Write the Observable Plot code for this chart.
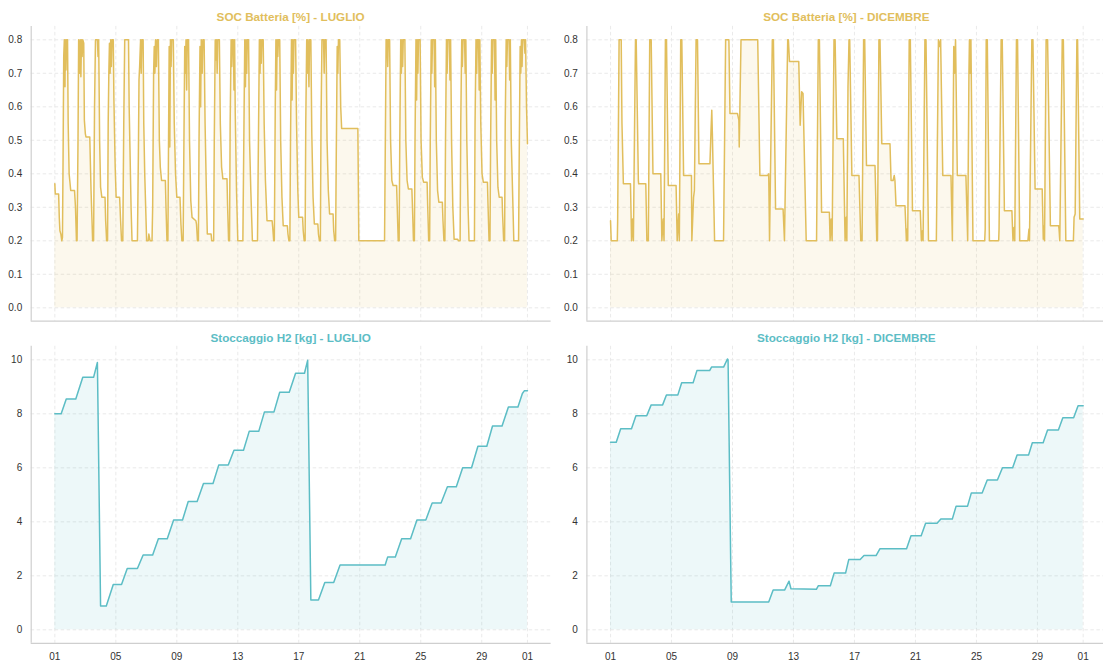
<!DOCTYPE html>
<html>
<head>
<meta charset="utf-8">
<script src="https://cdn.jsdelivr.net/npm/d3@7"></script>
<script src="https://cdn.jsdelivr.net/npm/@observablehq/plot@0.6"></script>
<style>
  body { margin: 0; background: #fff; font-family: "Liberation Sans", Arial, sans-serif; }
  #wrap { position: relative; width: 1103px; height: 664px; overflow: hidden; background: #fff; }
  .panel { position: absolute; }
  .title { position: absolute; width: 400px; text-align: center; font-weight: bold; font-size: 11.7px; line-height: 11.7px; white-space: nowrap; }
</style>
</head>
<body>
<div id="wrap"></div>
<script>
// Knots are [hour from the first day of the month, value]; the line joins them.
const julyStart = "2023-07-01";
const decStart = "2023-12-01";

// Tick dates on the x axes (every 4 days plus the first day of the next month)
const julyTickDates = ["2023-07-01","2023-07-05","2023-07-09","2023-07-13","2023-07-17","2023-07-21","2023-07-25","2023-07-29","2023-08-01"];
const decTickDates = ["2023-12-01","2023-12-05","2023-12-09","2023-12-13","2023-12-17","2023-12-21","2023-12-25","2023-12-29","2024-01-01"];

// Battery state of charge, July
const socJuly = [
  [0,0.37],[0.7,0.34],[6,0.34],[7,0.27],[8,0.23],[9.5,0.22],[11,0.2],[12,0.21],[13,0.45],[14,0.75],[15,0.8],[16,0.66],[16.5,0.8],[17.5,0.71],[18.5,0.8],[20,0.8],[21,0.55],[22.5,0.4],[23.5,0.38],
  [25,0.35],[31,0.35],[32.5,0.3],[34,0.2],[35,0.2],[36.5,0.5],[37.5,0.8],[39,0.7],[40,0.8],[41,0.69],[42,0.8],[43,0.75],[44,0.8],[45.5,0.79],[46.5,0.56],[48,0.52],[49,0.51],
  [55,0.51],[57,0.35],[59.5,0.2],[61,0.2],[62.5,0.6],[64,0.8],[67,0.8],[68,0.75],[69,0.8],[70.5,0.5],[72,0.36],[74,0.33],
  [79,0.33],[80,0.26],[81.5,0.2],[83,0.2],[84,0.55],[85,0.7],[86,0.79],[87,0.7],[88,0.8],[89,0.72],[90,0.8],[92,0.8],[93,0.62],[95,0.42],[96.5,0.33],
  [102,0.33],[103.5,0.26],[105,0.2],[107,0.2],[108.5,0.55],[110,0.8],[116,0.8],[117,0.6],[118.5,0.45],[120,0.3],[121.5,0.2],
  [130,0.2],[131.5,0.45],[132.5,0.68],[133.5,0.72],[135,0.8],[136,0.7],[137,0.8],[139,0.8],[140,0.55],[141.5,0.4],[143,0.3],[144.5,0.2],
  [147,0.2],[148,0.22],[150,0.2],[153,0.2],[154,0.3],[155.5,0.7],[156.5,0.78],[157.5,0.7],[158.5,0.8],[160,0.72],[161,0.8],[163,0.8],[164.5,0.5],[166,0.42],[168,0.38],
  [174,0.38],[175,0.3],[176.5,0.2],[178,0.2],[179,0.5],[180,0.78],[181,0.48],[182,0.8],[183,0.72],[184,0.8],[186.5,0.8],[188,0.55],[190,0.4],[192,0.33],
  [197,0.33],[198.5,0.25],[200,0.2],[202,0.2],[203,0.45],[204.5,0.78],[205.5,0.7],[206.5,0.8],[207.5,0.65],[208.5,0.8],[210.5,0.8],[212,0.5],[214,0.32],[216,0.27],
  [222,0.26],[223,0.25],[224.5,0.2],[226,0.2],[227,0.5],[228.5,0.78],[229.5,0.6],[230.5,0.8],[232,0.7],[233,0.8],[235,0.8],[236.5,0.55],[238.5,0.35],[240,0.22],
  [246,0.22],[247,0.2],[250,0.2],[251,0.5],[252.5,0.8],[253.5,0.74],[254.5,0.8],[255.5,0.7],[256.5,0.8],[259,0.8],[260.5,0.55],[262.5,0.42],[264.5,0.385],
  [271,0.385],[272,0.3],[273.5,0.2],[275,0.2],[276,0.55],[277.5,0.8],[278.5,0.72],[279.5,0.8],[281,0.8],[282,0.65],[283,0.8],[284,0.58],[286,0.35],[288,0.2],
  [296,0.2],[297.5,0.5],[299,0.8],[300,0.66],[301,0.8],[302,0.7],[303,0.8],[305,0.8],[306.5,0.5],[308.5,0.35],[311,0.2],
  [319,0.2],[320.5,0.5],[322,0.8],[323,0.7],[324,0.8],[325,0.73],[326,0.8],[328,0.8],[329.5,0.55],[331.5,0.38],[334,0.26],
  [342,0.26],[343,0.24],[344.5,0.2],[345.5,0.2],[347,0.6],[348,0.8],[349,0.65],[350,0.8],[351,0.75],[352,0.8],[354,0.8],[355.5,0.5],[357.5,0.33],[359.5,0.245],
  [366,0.245],[367,0.22],[368.5,0.2],[370,0.2],[371,0.5],[372.5,0.8],[373.5,0.62],[374.5,0.8],[375.5,0.7],[376.5,0.8],[379,0.8],[380.5,0.55],[382.5,0.35],[384,0.27],
  [390,0.27],[391,0.23],[392.5,0.2],[394,0.2],[395,0.55],[396.5,0.8],[397.5,0.7],[398.5,0.8],[400,0.66],[401,0.8],[403,0.8],[404.5,0.52],[406.5,0.33],[408.5,0.25],
  [414,0.25],[415,0.22],[416.5,0.2],[418,0.2],[419,0.55],[420.5,0.8],[423,0.8],[424,0.7],[425,0.8],[427,0.8],[428.5,0.5],[430.5,0.35],[432.5,0.28],
  [438,0.28],[439,0.23],[440.5,0.2],[442,0.2],[443,0.45],[444.5,0.78],[445.5,0.7],[446.5,0.8],[448.5,0.8],[450,0.6],[451.5,0.535],
  [477,0.535],[478.5,0.2],
  [519,0.2],[520.5,0.55],[521.5,0.8],[523,0.8],[524,0.72],[525,0.8],[527,0.8],[528.5,0.5],[530.5,0.38],[532.5,0.365],
  [538,0.365],[539,0.3],[540.5,0.2],[542,0.2],[543,0.5],[544.5,0.8],[545.5,0.7],[546.5,0.8],[547.5,0.72],[548.5,0.8],[551,0.8],[552.5,0.5],[554.5,0.38],[556.5,0.355],
  [562,0.355],[563,0.3],[564.5,0.2],[566,0.2],[567,0.5],[568.5,0.8],[569.5,0.62],[570.5,0.8],[571.5,0.7],[572.5,0.8],[575,0.8],[576.5,0.5],[578.5,0.39],[580.5,0.375],
  [586,0.375],[587,0.3],[588.5,0.2],[590,0.2],[591,0.5],[592.5,0.8],[593.5,0.7],[594.5,0.8],[597,0.8],[598,0.66],[599,0.8],[600.5,0.5],[602.5,0.35],[604.5,0.315],
  [610,0.315],[611,0.26],[612.5,0.2],[614,0.2],[615,0.5],[616.5,0.8],[617.5,0.7],[618.5,0.8],[621,0.8],[622,0.68],[623,0.8],[624.5,0.5],[626.5,0.3],[628.5,0.205],
  [634,0.205],[635.5,0.2],[638,0.2],[639,0.55],[640.5,0.8],[641.5,0.72],[642.5,0.8],[645,0.8],[646,0.7],[647,0.8],[648.5,0.5],[650.5,0.3],[652,0.2],
  [659,0.2],[660.5,0.2],[661.5,0.55],[663,0.8],[664,0.7],[665,0.8],[667,0.8],[668,0.65],[669,0.8],[670.5,0.55],[672.5,0.4],[674.5,0.375],
  [681,0.375],[682,0.3],[683.5,0.2],[685,0.2],[686,0.5],[687.5,0.8],[688.5,0.7],[689.5,0.8],[692,0.8],[693,0.62],[694,0.8],[695.5,0.5],[697.5,0.36],[699.5,0.33],
  [704,0.33],[705,0.27],[706.5,0.2],[708,0.2],[709,0.55],[710.5,0.8],[711.5,0.72],[712.5,0.8],[715,0.8],[716,0.68],[717,0.8],[718.5,0.5],[720.5,0.35],[722.5,0.2],
  [730,0.2],[731,0.45],[732.5,0.78],[733.5,0.7],[734.5,0.8],[735.5,0.72],[736.5,0.8],[739,0.8],[740,0.76],[741,0.8],[742.5,0.6],[744,0.49]
];

// Battery state of charge, December
const socDec = [
  [0,0.26],[1.1,0.2],[10.7,0.2],[11.2,0.26],[13.5,0.8],[16.8,0.8],[18,0.55],[20.2,0.37],[31.4,0.37],[33.1,0.2],[34.8,0.265],[36,0.2],[37.6,0.5],[39.3,0.8],[40.4,0.8],[43.8,0.38],[44.3,0.37],
  [55.5,0.37],[57.2,0.2],[59.5,0.2],[61.7,0.8],[64,0.8],[66.8,0.4],[79.1,0.4],[80.8,0.2],[83,0.265],[84.2,0.2],[86.4,0.8],[88.1,0.8],[90.9,0.365],
  [103.2,0.365],[104.9,0.2],[107.2,0.28],[108.3,0.2],[110.5,0.8],[112.2,0.8],[115,0.395],[127.4,0.395],[128,0.2],[130.7,0.33],[132,0.35],[134.7,0.8],[136.9,0.8],[139.2,0.43],
  [156.5,0.43],[158.2,0.53],[159.4,0.59],[160.3,0.52],[163.8,0.2],[177.9,0.2],[181.2,0.8],[186.3,0.8],[188,0.58],[199.8,0.58],[202,0.56],[202.6,0.48],[203.5,0.58],[205.4,0.8],
  [231.7,0.8],[235.1,0.395],[247.4,0.395],[249,0.4],[250.3,0.2],[254.7,0.8],[256.4,0.8],[259.8,0.295],[271.6,0.295],[273.8,0.2],[278.9,0.8],[280,0.8],[281.7,0.735],
  [296.3,0.735],[298.5,0.545],[300.8,0.645],[303,0.64],[308,0.2],[324.3,0.2],[327.1,0.8],[328.8,0.8],[332.2,0.285],[344.5,0.285],[345.6,0.2],[347.3,0.265],[348.8,0.2],[351.8,0.8],[353.5,0.8],[356.3,0.505],
  [366.4,0.505],[369.2,0.2],[371,0.27],[372,0.2],[373.8,0.66],[375.4,0.8],[376.5,0.8],[379.9,0.395],[391.1,0.395],[393.9,0.2],[396,0.2],[398.4,0.8],[400.1,0.8],[402.9,0.425],
  [416.3,0.425],[419.1,0.2],[420.2,0.2],[422.5,0.8],[424.2,0.8],[427,0.49],[439.9,0.49],[441.6,0.38],[444.8,0.38],[446.6,0.395],[447.7,0.38],[449.4,0.305],
  [463.5,0.305],[465.7,0.2],[466.8,0.235],[467.8,0.2],[470.2,0.8],[471.9,0.8],[475.3,0.29],[487.6,0.29],[489.3,0.2],[491,0.23],[492,0.2],[494.9,0.8],[496.6,0.8],[500.5,0.2],
  [512.9,0.2],[516.2,0.8],[517.8,0.78],[519.6,0.8],[523,0.395],[535.9,0.395],[538.1,0.2],[540.3,0.78],[541.5,0.7],[543.1,0.8],[545.9,0.395],
  [559.4,0.395],[562.2,0.2],[564.2,0.7],[565,0.8],[566,0.7],[567.3,0.8],[570.5,0.2],[589,0.2],[589.8,0.235],[591.4,0.8],[593.1,0.8],[596.4,0.2],
  [611,0.2],[611.6,0.235],[614.9,0.8],[616.6,0.8],[620,0.29],[631.8,0.29],[633.5,0.2],[635.2,0.24],[636.3,0.2],[639,0.8],[640.7,0.8],[644.1,0.2],
  [657,0.2],[658.7,0.235],[659.5,0.2],[663.2,0.8],[664.9,0.8],[668.3,0.355],[679.5,0.355],[681.2,0.205],[682.3,0.245],[683.2,0.2],[685.7,0.8],[688,0.8],[692.4,0.245],
  [705.4,0.245],[706,0.235],[707.2,0.2],[711.1,0.8],[712.8,0.8],[716.7,0.2],[728.6,0.2],[729.7,0.27],[731.4,0.28],[734.1,0.8],[735.2,0.8],[738.6,0.265],[744,0.265]
];

// Hydrogen storage, July (hour, kg)
const h2JulyHours = [0, 10, 18, 33, 44, 61, 67, 72, 81, 92, 105, 114, 130, 139, 154, 163, 177, 187, 201, 210, 224, 234, 249, 258, 273, 282, 297, 306, 321, 330, 345, 354, 369, 379, 393, 398, 403, 415, 425, 439, 449, 520, 524, 536, 546, 560, 570, 584, 594, 608, 618, 632, 642, 656, 666, 680, 689, 704, 714, 729, 736, 739, 744];
const h2JulyKg = [8.0, 8.0, 8.55, 8.55, 9.35, 9.35, 9.9, 0.88, 0.88, 1.68, 1.68, 2.27, 2.27, 2.77, 2.77, 3.37, 3.37, 4.07, 4.07, 4.75, 4.75, 5.42, 5.42, 6.1, 6.1, 6.65, 6.65, 7.35, 7.35, 8.07, 8.07, 8.8, 8.8, 9.5, 9.5, 9.98, 1.1, 1.1, 1.75, 1.75, 2.4, 2.4, 2.7, 2.7, 3.37, 3.37, 4.07, 4.07, 4.7, 4.7, 5.3, 5.3, 6.0, 6.0, 6.8, 6.8, 7.55, 7.55, 8.25, 8.25, 8.75, 8.85, 8.85];

// Hydrogen storage, December (hour, kg)
const h2DecHours = [0, 9, 16, 33, 40, 57, 64, 82, 88, 106, 112, 130, 136, 156, 159, 178, 184, 185, 190, 249, 256, 274, 281, 284, 324, 327, 346, 352, 370, 375, 393, 399, 418, 424, 466, 473, 489, 496, 514, 520, 538, 544, 562, 568, 585, 593, 609, 617, 633, 640, 658, 664, 681, 688, 705, 712, 729, 736, 744];
const h2DecKg = [6.95, 6.95, 7.45, 7.45, 7.93, 7.93, 8.33, 8.33, 8.7, 8.7, 9.15, 9.15, 9.6, 9.6, 9.73, 9.73, 10.03, 10.0, 1.03, 1.03, 1.47, 1.47, 1.8, 1.52, 1.5, 1.63, 1.63, 2.1, 2.1, 2.6, 2.6, 2.75, 2.75, 3.0, 3.0, 3.48, 3.48, 3.95, 3.95, 4.1, 4.1, 4.58, 4.58, 5.07, 5.07, 5.55, 5.55, 6.0, 6.0, 6.47, 6.47, 6.93, 6.93, 7.4, 7.4, 7.85, 7.85, 8.3, 8.3];

const socTicks = [0, 0.1, 0.2, 0.3, 0.4, 0.5, 0.6, 0.7, 0.8];
const h2Ticks = [0, 2, 4, 6, 8, 10];

const gold = "#E1BE5C";
const teal = "#5CBDC5";

const HOUR = 3600 * 1000;
function series(start, hours, values) {
  const t0 = new Date(start).getTime();
  return hours.map((h, i) => ({t: new Date(t0 + h * HOUR), v: values[i]}));
}
function seriesFromKnots(start, knots) {
  return series(start, knots.map(k => k[0]), knots.map(k => k[1]));
}
// Pad the time domain by 5% on both sides of the month
function paddedDomain(start, end) {
  const a = new Date(start).getTime(), b = new Date(end).getTime();
  const pad = (b - a) * 0.05;
  return [new Date(a - pad), new Date(b + pad)];
}

const wrap = document.getElementById("wrap");

function panel({left, top, width, height, frame, xDomain, xTicks, showX, yDomain, yTicks, yFormat, data, color, title, titleBaseline}) {
  const chart = Plot.plot({
    width, height,
    marginLeft: frame.x0 - left,
    marginRight: left + width - frame.x1,
    marginTop: frame.y0 - top,
    marginBottom: top + height - frame.y1,
    style: {fontFamily: '"Liberation Sans", Arial, sans-serif', fontSize: "10px", color: "#333", background: "transparent", overflow: "visible"},
    x: showX
      ? {type: "utc", domain: xDomain, ticks: xTicks, tickFormat: d3.utcFormat("%d"), tickSize: 0, tickPadding: 10, label: null}
      : {type: "utc", domain: xDomain, axis: null},
    y: {domain: yDomain, ticks: yTicks, tickFormat: yFormat, tickSize: 0, tickPadding: 9, label: null},
    marks: [
      Plot.ruleY(yTicks, {stroke: "#e4e4e4", strokeWidth: 0.8, strokeDasharray: "3.5,2.5"}),
      Plot.ruleX(xTicks, {stroke: "#e4e4e4", strokeWidth: 0.8, strokeDasharray: "3.5,2.5"}),
      Plot.areaY(data, {x: "t", y: "v", fill: color, fillOpacity: 0.11}),
      Plot.lineY(data, {x: "t", y: "v", stroke: color, strokeWidth: 1.5}),
      Plot.ruleX([xDomain[0]], {stroke: "#cfcfcf", strokeWidth: 1.2}),
      Plot.ruleY([yDomain[0]], {stroke: "#cfcfcf", strokeWidth: 1.2})
    ]
  });
  chart.classList.add("panel");
  chart.style.left = left + "px";
  chart.style.top = top + "px";
  wrap.appendChild(chart);

  const t = document.createElement("div");
  t.className = "title";
  t.textContent = title;
  t.style.color = color;
  t.style.left = ((frame.x0 + frame.x1) / 2 - 200) + "px";
  t.style.top = (titleBaseline - 9.9) + "px";
  wrap.appendChild(t);
}

const julyDomain = paddedDomain(julyStart, "2023-08-01");
const decDomain = paddedDomain(decStart, "2024-01-01");
const julyTicks = julyTickDates.map(d => new Date(d));
const decTicks = decTickDates.map(d => new Date(d));

const fSoc = d3.format(".1f");
const fH2 = d3.format("d");
const socY = [-0.04, 0.84];
const h2Y = [-0.5, 10.5];

panel({left: 0, top: 0, width: 555, height: 326, frame: {x0: 30.7, x1: 550.6, y0: 25.9, y1: 320.7},
  xDomain: julyDomain, xTicks: julyTicks, showX: false, yDomain: socY, yTicks: socTicks, yFormat: fSoc,
  data: seriesFromKnots(julyStart, socJuly), color: gold, title: "SOC Batteria [%] - LUGLIO", titleBaseline: 20.6});

panel({left: 555, top: 0, width: 560, height: 326, frame: {x0: 586.4, x1: 1106.3, y0: 25.9, y1: 320.7},
  xDomain: decDomain, xTicks: decTicks, showX: false, yDomain: socY, yTicks: socTicks, yFormat: fSoc,
  data: seriesFromKnots(decStart, socDec), color: gold, title: "SOC Batteria [%] - DICEMBRE", titleBaseline: 20.6});

panel({left: 0, top: 326, width: 555, height: 338, frame: {x0: 30.7, x1: 550.6, y0: 345.8, y1: 642.8},
  xDomain: julyDomain, xTicks: julyTicks, showX: true, yDomain: h2Y, yTicks: h2Ticks, yFormat: fH2,
  data: series(julyStart, h2JulyHours, h2JulyKg), color: teal, title: "Stoccaggio H2 [kg] - LUGLIO", titleBaseline: 341.4});

panel({left: 555, top: 326, width: 560, height: 338, frame: {x0: 586.4, x1: 1106.3, y0: 345.8, y1: 642.8},
  xDomain: decDomain, xTicks: decTicks, showX: true, yDomain: h2Y, yTicks: h2Ticks, yFormat: fH2,
  data: series(decStart, h2DecHours, h2DecKg), color: teal, title: "Stoccaggio H2 [kg] - DICEMBRE", titleBaseline: 341.4});
</script>
</body>
</html>
